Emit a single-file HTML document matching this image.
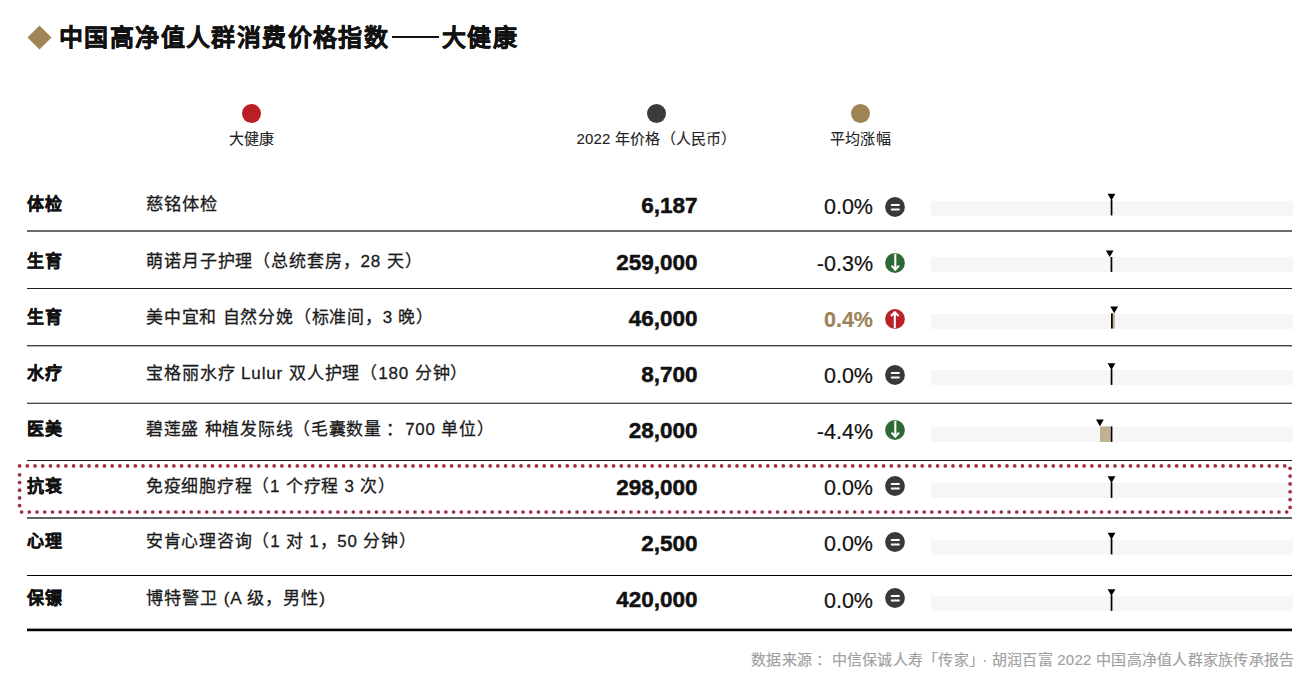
<!DOCTYPE html>
<html lang="zh-CN"><head><meta charset="utf-8"><style>
html,body{margin:0;padding:0;background:#fff;}
body{width:1308px;height:674px;overflow:hidden;position:relative;font-family:"Liberation Sans",sans-serif;color:#111;}
.a{position:absolute;white-space:nowrap;}
.b{font-weight:bold;}
.r{text-align:right;}
.c{text-align:center;}
.ttl{font-weight:bold;font-size:24px;line-height:38px;letter-spacing:1.4px;color:#111;-webkit-text-stroke:0.45px #111;}
.cat{font-size:17px;line-height:26px;letter-spacing:1px;font-weight:700;-webkit-text-stroke:0.35px #111;color:#111;}
.nm{font-size:17px;line-height:26px;letter-spacing:0.85px;color:#1a1a1a;-webkit-text-stroke:0.28px #1a1a1a;transform-origin:0 50%;}
.pr{font-weight:bold;font-size:22.5px;line-height:30px;color:#111;-webkit-text-stroke:0.5px #111;}
.pc{font-size:21.5px;line-height:30px;-webkit-text-stroke:0.2px currentColor;}
.trk{position:absolute;left:931px;width:362px;height:15px;background:#f6f6f6;}
.lg{font-size:15px;line-height:22px;letter-spacing:0.2px;color:#222;-webkit-text-stroke:0.1px #222;}
</style></head><body>

<div class="a" style="left:30.9px;top:28.6px;width:17px;height:17px;background:#9e8558;transform:rotate(45deg);"></div>
<div class="a ttl" style="left:59px;top:19px;">中国高净值人群消费价格指数</div>
<div class="a" style="left:392.2px;top:36.1px;width:46.5px;height:1.9px;background:#111;"></div>
<div class="a ttl" style="left:442px;top:19px;">大健康</div>
<div class="a" style="left:242.2px;top:104.3px;width:19px;height:19px;border-radius:50%;background:#bb1f26;"></div>
<div class="a c lg" style="left:101.7px;width:300px;top:127.5px;">大健康</div>
<div class="a" style="left:647.0px;top:104.3px;width:19px;height:19px;border-radius:50%;background:#3d3a3a;"></div>
<div class="a c lg" style="left:506.5px;width:300px;top:127.5px;">2022 年价格（人民币）</div>
<div class="a" style="left:850.9px;top:104.3px;width:19px;height:19px;border-radius:50%;background:#9d8452;"></div>
<div class="a c lg" style="left:710.4px;width:300px;top:127.5px;">平均涨幅</div>
<div class="trk" style="top:201.00px;"></div>
<div class="a cat" style="left:27px;top:191.7px;">体检</div>
<div class="a nm" style="left:145.6px;top:191.7px;transform:scaleX(1.016);">慈铭体检</div>
<div class="a r pr" style="left:397.5px;width:300px;top:191.2px;">6,187</div>
<div class="a r pc" style="left:573px;width:300px;top:191.5px;color:#111;font-weight:normal;">0.0%</div>
<svg style="position:absolute;left:885.45px;top:197.00px" width="20" height="20" viewBox="0 0 20 20"><circle cx="10" cy="10" r="9.9" fill="#3b3838"/><rect x="5.9" y="6.9" width="8.8" height="2.2" rx="0.6" fill="#fff"/><rect x="5.9" y="11.4" width="8.8" height="2.2" rx="0.6" fill="#fff"/></svg>
<div class="trk" style="top:257.45px;"></div>
<div class="a cat" style="left:27px;top:248.7px;">生育</div>
<div class="a nm" style="left:145.6px;top:248.7px;transform:scaleX(1.0015);">萌诺月子护理（总统套房，28 天）</div>
<div class="a r pr" style="left:397.5px;width:300px;top:248.2px;">259,000</div>
<div class="a r pc" style="left:573px;width:300px;top:248.5px;color:#111;font-weight:normal;">-0.3%</div>
<svg style="position:absolute;left:885.45px;top:252.86px" width="20" height="20" viewBox="0 0 20 20"><circle cx="10" cy="10" r="9.9" fill="#2d6a36"/><path d="M10.3 0.8 V16.6 M6.6 12.6 L10.3 16.6 L14 12.6" fill="none" stroke="#fff" stroke-width="2.1" stroke-linecap="butt" stroke-linejoin="miter"/></svg>
<div class="trk" style="top:313.90px;"></div>
<div class="a cat" style="left:27px;top:304.7px;">生育</div>
<div class="a nm" style="left:145.6px;top:304.7px;transform:scaleX(0.996);">美中宜和 自然分娩（标准间，3 晚）</div>
<div class="a r pr" style="left:397.5px;width:300px;top:304.2px;">46,000</div>
<div class="a r pc" style="left:573px;width:300px;top:304.5px;color:#9c8458;font-weight:bold;">0.4%</div>
<svg style="position:absolute;left:885.45px;top:308.72px" width="20" height="20" viewBox="0 0 20 20"><circle cx="10" cy="10" r="9.9" fill="#b92229"/><path d="M9.8 19.2 V3.2 M6 7.1 L9.8 3.2 L13.6 7.1" fill="none" stroke="#fff" stroke-width="2.1" stroke-linecap="butt" stroke-linejoin="miter"/></svg>
<div class="trk" style="top:370.35px;"></div>
<div class="a cat" style="left:27px;top:360.8px;">水疗</div>
<div class="a nm" style="left:145.6px;top:360.8px;transform:scaleX(1.002);">宝格丽水疗 Lulur 双人护理（180 分钟）</div>
<div class="a r pr" style="left:397.5px;width:300px;top:360.3px;">8,700</div>
<div class="a r pc" style="left:573px;width:300px;top:360.6px;color:#111;font-weight:normal;">0.0%</div>
<svg style="position:absolute;left:885.45px;top:364.58px" width="20" height="20" viewBox="0 0 20 20"><circle cx="10" cy="10" r="9.9" fill="#3b3838"/><rect x="5.9" y="6.9" width="8.8" height="2.2" rx="0.6" fill="#fff"/><rect x="5.9" y="11.4" width="8.8" height="2.2" rx="0.6" fill="#fff"/></svg>
<div class="trk" style="top:426.80px;"></div>
<div class="a cat" style="left:27px;top:416.7px;">医美</div>
<div class="a nm" style="left:145.6px;top:416.7px;transform:scaleX(0.9926);">碧莲盛 种植发际线（毛囊数量<span style='position:relative;left:4px'>：</span> 700 单位）</div>
<div class="a r pr" style="left:397.5px;width:300px;top:416.2px;">28,000</div>
<div class="a r pc" style="left:573px;width:300px;top:416.5px;color:#111;font-weight:normal;">-4.4%</div>
<svg style="position:absolute;left:885.45px;top:420.44px" width="20" height="20" viewBox="0 0 20 20"><circle cx="10" cy="10" r="9.9" fill="#2d6a36"/><path d="M10.3 0.8 V16.6 M6.6 12.6 L10.3 16.6 L14 12.6" fill="none" stroke="#fff" stroke-width="2.1" stroke-linecap="butt" stroke-linejoin="miter"/></svg>
<div class="trk" style="top:483.25px;"></div>
<div class="a cat" style="left:27px;top:473.5px;">抗衰</div>
<div class="a nm" style="left:145.6px;top:473.5px;transform:scaleX(0.993);">免疫细胞疗程（1 个疗程 3 次）</div>
<div class="a r pr" style="left:397.5px;width:300px;top:473.0px;">298,000</div>
<div class="a r pc" style="left:573px;width:300px;top:473.3px;color:#111;font-weight:normal;">0.0%</div>
<svg style="position:absolute;left:885.45px;top:476.30px" width="20" height="20" viewBox="0 0 20 20"><circle cx="10" cy="10" r="9.9" fill="#3b3838"/><rect x="5.9" y="6.9" width="8.8" height="2.2" rx="0.6" fill="#fff"/><rect x="5.9" y="11.4" width="8.8" height="2.2" rx="0.6" fill="#fff"/></svg>
<div class="trk" style="top:539.70px;"></div>
<div class="a cat" style="left:27px;top:529.4px;">心理</div>
<div class="a nm" style="left:145.6px;top:529.4px;transform:scaleX(0.994);">安肯心理咨询（1 对 1，50 分钟）</div>
<div class="a r pr" style="left:397.5px;width:300px;top:528.9px;">2,500</div>
<div class="a r pc" style="left:573px;width:300px;top:529.2px;color:#111;font-weight:normal;">0.0%</div>
<svg style="position:absolute;left:885.45px;top:532.16px" width="20" height="20" viewBox="0 0 20 20"><circle cx="10" cy="10" r="9.9" fill="#3b3838"/><rect x="5.9" y="6.9" width="8.8" height="2.2" rx="0.6" fill="#fff"/><rect x="5.9" y="11.4" width="8.8" height="2.2" rx="0.6" fill="#fff"/></svg>
<div class="trk" style="top:596.15px;"></div>
<div class="a cat" style="left:27px;top:585.7px;">保镖</div>
<div class="a nm" style="left:145.6px;top:585.7px;transform:scaleX(1.0086);">博特警卫 (A 级，男性)</div>
<div class="a r pr" style="left:397.5px;width:300px;top:585.2px;">420,000</div>
<div class="a r pc" style="left:573px;width:300px;top:585.5px;color:#111;font-weight:normal;">0.0%</div>
<svg style="position:absolute;left:885.45px;top:588.02px" width="20" height="20" viewBox="0 0 20 20"><circle cx="10" cy="10" r="9.9" fill="#3b3838"/><rect x="5.9" y="6.9" width="8.8" height="2.2" rx="0.6" fill="#fff"/><rect x="5.9" y="11.4" width="8.8" height="2.2" rx="0.6" fill="#fff"/></svg>
<div class="a" style="left:27px;top:230px;width:1265px;height:2px;background:#6a6a6a;"></div>
<div class="a" style="left:27px;top:288px;width:1265px;height:1px;background:#1e1e1e;"></div>
<div class="a" style="left:27px;top:345px;width:1265px;height:1px;background:#454545;"></div>
<div class="a" style="left:27px;top:346px;width:1265px;height:1px;background:#b0b0b0;"></div>
<div class="a" style="left:27px;top:402px;width:1265px;height:1px;background:#c0c0c0;"></div>
<div class="a" style="left:27px;top:403px;width:1265px;height:1px;background:#474747;"></div>
<div class="a" style="left:27px;top:460px;width:1265px;height:1px;background:#202020;"></div>
<div class="a" style="left:27px;top:517px;width:1265px;height:2px;background:#5e6462;"></div>
<div class="a" style="left:27px;top:575px;width:1265px;height:1px;background:#000;"></div>
<div class="a" style="left:27px;top:628px;width:1265px;height:1px;background:#9a9a9a;"></div>
<div class="a" style="left:27px;top:629px;width:1265px;height:2px;background:#000;"></div>
<div class="a" style="left:27px;top:631px;width:1265px;height:1px;background:#c8c8c8;"></div>
<svg class="a" style="left:0;top:0" width="1308" height="674"><polygon points="1107.60,193.80 1115.40,193.80 1111.50,200.40" fill="#000"/><rect x="1110.70" y="199.80" width="1.7" height="15.60" fill="#000"/><polygon points="1105.80,250.40 1113.60,250.40 1109.70,257.00" fill="#000"/><rect x="1110.60" y="257.00" width="1.7" height="14.90" fill="#000"/><rect x="1111.60" y="313.40" width="3.20" height="15.10" fill="#c2b190"/><polygon points="1110.30,306.60 1118.10,306.60 1114.20,313.20" fill="#000"/><rect x="1111.00" y="313.40" width="1.7" height="15.10" fill="#000"/><polygon points="1107.60,363.30 1115.40,363.30 1111.50,369.90" fill="#000"/><rect x="1110.70" y="369.30" width="1.7" height="15.60" fill="#000"/><rect x="1100.00" y="426.40" width="10.50" height="15.50" fill="#c2b190"/><polygon points="1096.00,419.60 1103.80,419.60 1099.90,426.20" fill="#000"/><rect x="1110.70" y="426.40" width="1.7" height="15.50" fill="#000"/><polygon points="1107.60,476.30 1115.40,476.30 1111.50,482.90" fill="#000"/><rect x="1110.70" y="482.30" width="1.7" height="15.60" fill="#000"/><polygon points="1107.60,532.80 1115.40,532.80 1111.50,539.40" fill="#000"/><rect x="1110.70" y="538.80" width="1.7" height="15.60" fill="#000"/><polygon points="1107.60,589.30 1115.40,589.30 1111.50,595.90" fill="#000"/><rect x="1110.70" y="595.30" width="1.7" height="15.60" fill="#000"/></svg>
<svg class="a" style="left:0;top:0" width="1308" height="674"><circle cx="19.60" cy="465.90" r="1.85" fill="#a02f3f"/><circle cx="21.60" cy="512.00" r="1.85" fill="#a02f3f"/><circle cx="27.31" cy="465.90" r="1.85" fill="#a02f3f"/><circle cx="29.31" cy="512.00" r="1.85" fill="#a02f3f"/><circle cx="35.03" cy="465.90" r="1.85" fill="#a02f3f"/><circle cx="37.03" cy="512.00" r="1.85" fill="#a02f3f"/><circle cx="42.74" cy="465.90" r="1.85" fill="#a02f3f"/><circle cx="44.74" cy="512.00" r="1.85" fill="#a02f3f"/><circle cx="50.46" cy="465.90" r="1.85" fill="#a02f3f"/><circle cx="52.46" cy="512.00" r="1.85" fill="#a02f3f"/><circle cx="58.17" cy="465.90" r="1.85" fill="#a02f3f"/><circle cx="60.17" cy="512.00" r="1.85" fill="#a02f3f"/><circle cx="65.88" cy="465.90" r="1.85" fill="#a02f3f"/><circle cx="67.88" cy="512.00" r="1.85" fill="#a02f3f"/><circle cx="73.60" cy="465.90" r="1.85" fill="#a02f3f"/><circle cx="75.60" cy="512.00" r="1.85" fill="#a02f3f"/><circle cx="81.31" cy="465.90" r="1.85" fill="#a02f3f"/><circle cx="83.31" cy="512.00" r="1.85" fill="#a02f3f"/><circle cx="89.03" cy="465.90" r="1.85" fill="#a02f3f"/><circle cx="91.03" cy="512.00" r="1.85" fill="#a02f3f"/><circle cx="96.74" cy="465.90" r="1.85" fill="#a02f3f"/><circle cx="98.74" cy="512.00" r="1.85" fill="#a02f3f"/><circle cx="104.45" cy="465.90" r="1.85" fill="#a02f3f"/><circle cx="106.45" cy="512.00" r="1.85" fill="#a02f3f"/><circle cx="112.17" cy="465.90" r="1.85" fill="#a02f3f"/><circle cx="114.17" cy="512.00" r="1.85" fill="#a02f3f"/><circle cx="119.88" cy="465.90" r="1.85" fill="#a02f3f"/><circle cx="121.88" cy="512.00" r="1.85" fill="#a02f3f"/><circle cx="127.60" cy="465.90" r="1.85" fill="#a02f3f"/><circle cx="129.60" cy="512.00" r="1.85" fill="#a02f3f"/><circle cx="135.31" cy="465.90" r="1.85" fill="#a02f3f"/><circle cx="137.31" cy="512.00" r="1.85" fill="#a02f3f"/><circle cx="143.02" cy="465.90" r="1.85" fill="#a02f3f"/><circle cx="145.02" cy="512.00" r="1.85" fill="#a02f3f"/><circle cx="150.74" cy="465.90" r="1.85" fill="#a02f3f"/><circle cx="152.74" cy="512.00" r="1.85" fill="#a02f3f"/><circle cx="158.45" cy="465.90" r="1.85" fill="#a02f3f"/><circle cx="160.45" cy="512.00" r="1.85" fill="#a02f3f"/><circle cx="166.17" cy="465.90" r="1.85" fill="#a02f3f"/><circle cx="168.17" cy="512.00" r="1.85" fill="#a02f3f"/><circle cx="173.88" cy="465.90" r="1.85" fill="#a02f3f"/><circle cx="175.88" cy="512.00" r="1.85" fill="#a02f3f"/><circle cx="181.59" cy="465.90" r="1.85" fill="#a02f3f"/><circle cx="183.59" cy="512.00" r="1.85" fill="#a02f3f"/><circle cx="189.31" cy="465.90" r="1.85" fill="#a02f3f"/><circle cx="191.31" cy="512.00" r="1.85" fill="#a02f3f"/><circle cx="197.02" cy="465.90" r="1.85" fill="#a02f3f"/><circle cx="199.02" cy="512.00" r="1.85" fill="#a02f3f"/><circle cx="204.74" cy="465.90" r="1.85" fill="#a02f3f"/><circle cx="206.74" cy="512.00" r="1.85" fill="#a02f3f"/><circle cx="212.45" cy="465.90" r="1.85" fill="#a02f3f"/><circle cx="214.45" cy="512.00" r="1.85" fill="#a02f3f"/><circle cx="220.16" cy="465.90" r="1.85" fill="#a02f3f"/><circle cx="222.16" cy="512.00" r="1.85" fill="#a02f3f"/><circle cx="227.88" cy="465.90" r="1.85" fill="#a02f3f"/><circle cx="229.88" cy="512.00" r="1.85" fill="#a02f3f"/><circle cx="235.59" cy="465.90" r="1.85" fill="#a02f3f"/><circle cx="237.59" cy="512.00" r="1.85" fill="#a02f3f"/><circle cx="243.31" cy="465.90" r="1.85" fill="#a02f3f"/><circle cx="245.31" cy="512.00" r="1.85" fill="#a02f3f"/><circle cx="251.02" cy="465.90" r="1.85" fill="#a02f3f"/><circle cx="253.02" cy="512.00" r="1.85" fill="#a02f3f"/><circle cx="258.73" cy="465.90" r="1.85" fill="#a02f3f"/><circle cx="260.73" cy="512.00" r="1.85" fill="#a02f3f"/><circle cx="266.45" cy="465.90" r="1.85" fill="#a02f3f"/><circle cx="268.45" cy="512.00" r="1.85" fill="#a02f3f"/><circle cx="274.16" cy="465.90" r="1.85" fill="#a02f3f"/><circle cx="276.16" cy="512.00" r="1.85" fill="#a02f3f"/><circle cx="281.88" cy="465.90" r="1.85" fill="#a02f3f"/><circle cx="283.88" cy="512.00" r="1.85" fill="#a02f3f"/><circle cx="289.59" cy="465.90" r="1.85" fill="#a02f3f"/><circle cx="291.59" cy="512.00" r="1.85" fill="#a02f3f"/><circle cx="297.30" cy="465.90" r="1.85" fill="#a02f3f"/><circle cx="299.30" cy="512.00" r="1.85" fill="#a02f3f"/><circle cx="305.02" cy="465.90" r="1.85" fill="#a02f3f"/><circle cx="307.02" cy="512.00" r="1.85" fill="#a02f3f"/><circle cx="312.73" cy="465.90" r="1.85" fill="#a02f3f"/><circle cx="314.73" cy="512.00" r="1.85" fill="#a02f3f"/><circle cx="320.45" cy="465.90" r="1.85" fill="#a02f3f"/><circle cx="322.45" cy="512.00" r="1.85" fill="#a02f3f"/><circle cx="328.16" cy="465.90" r="1.85" fill="#a02f3f"/><circle cx="330.16" cy="512.00" r="1.85" fill="#a02f3f"/><circle cx="335.87" cy="465.90" r="1.85" fill="#a02f3f"/><circle cx="337.87" cy="512.00" r="1.85" fill="#a02f3f"/><circle cx="343.59" cy="465.90" r="1.85" fill="#a02f3f"/><circle cx="345.59" cy="512.00" r="1.85" fill="#a02f3f"/><circle cx="351.30" cy="465.90" r="1.85" fill="#a02f3f"/><circle cx="353.30" cy="512.00" r="1.85" fill="#a02f3f"/><circle cx="359.02" cy="465.90" r="1.85" fill="#a02f3f"/><circle cx="361.02" cy="512.00" r="1.85" fill="#a02f3f"/><circle cx="366.73" cy="465.90" r="1.85" fill="#a02f3f"/><circle cx="368.73" cy="512.00" r="1.85" fill="#a02f3f"/><circle cx="374.44" cy="465.90" r="1.85" fill="#a02f3f"/><circle cx="376.44" cy="512.00" r="1.85" fill="#a02f3f"/><circle cx="382.16" cy="465.90" r="1.85" fill="#a02f3f"/><circle cx="384.16" cy="512.00" r="1.85" fill="#a02f3f"/><circle cx="389.87" cy="465.90" r="1.85" fill="#a02f3f"/><circle cx="391.87" cy="512.00" r="1.85" fill="#a02f3f"/><circle cx="397.59" cy="465.90" r="1.85" fill="#a02f3f"/><circle cx="399.59" cy="512.00" r="1.85" fill="#a02f3f"/><circle cx="405.30" cy="465.90" r="1.85" fill="#a02f3f"/><circle cx="407.30" cy="512.00" r="1.85" fill="#a02f3f"/><circle cx="413.01" cy="465.90" r="1.85" fill="#a02f3f"/><circle cx="415.01" cy="512.00" r="1.85" fill="#a02f3f"/><circle cx="420.73" cy="465.90" r="1.85" fill="#a02f3f"/><circle cx="422.73" cy="512.00" r="1.85" fill="#a02f3f"/><circle cx="428.44" cy="465.90" r="1.85" fill="#a02f3f"/><circle cx="430.44" cy="512.00" r="1.85" fill="#a02f3f"/><circle cx="436.16" cy="465.90" r="1.85" fill="#a02f3f"/><circle cx="438.16" cy="512.00" r="1.85" fill="#a02f3f"/><circle cx="443.87" cy="465.90" r="1.85" fill="#a02f3f"/><circle cx="445.87" cy="512.00" r="1.85" fill="#a02f3f"/><circle cx="451.58" cy="465.90" r="1.85" fill="#a02f3f"/><circle cx="453.58" cy="512.00" r="1.85" fill="#a02f3f"/><circle cx="459.30" cy="465.90" r="1.85" fill="#a02f3f"/><circle cx="461.30" cy="512.00" r="1.85" fill="#a02f3f"/><circle cx="467.01" cy="465.90" r="1.85" fill="#a02f3f"/><circle cx="469.01" cy="512.00" r="1.85" fill="#a02f3f"/><circle cx="474.73" cy="465.90" r="1.85" fill="#a02f3f"/><circle cx="476.73" cy="512.00" r="1.85" fill="#a02f3f"/><circle cx="482.44" cy="465.90" r="1.85" fill="#a02f3f"/><circle cx="484.44" cy="512.00" r="1.85" fill="#a02f3f"/><circle cx="490.15" cy="465.90" r="1.85" fill="#a02f3f"/><circle cx="492.15" cy="512.00" r="1.85" fill="#a02f3f"/><circle cx="497.87" cy="465.90" r="1.85" fill="#a02f3f"/><circle cx="499.87" cy="512.00" r="1.85" fill="#a02f3f"/><circle cx="505.58" cy="465.90" r="1.85" fill="#a02f3f"/><circle cx="507.58" cy="512.00" r="1.85" fill="#a02f3f"/><circle cx="513.30" cy="465.90" r="1.85" fill="#a02f3f"/><circle cx="515.30" cy="512.00" r="1.85" fill="#a02f3f"/><circle cx="521.01" cy="465.90" r="1.85" fill="#a02f3f"/><circle cx="523.01" cy="512.00" r="1.85" fill="#a02f3f"/><circle cx="528.72" cy="465.90" r="1.85" fill="#a02f3f"/><circle cx="530.72" cy="512.00" r="1.85" fill="#a02f3f"/><circle cx="536.44" cy="465.90" r="1.85" fill="#a02f3f"/><circle cx="538.44" cy="512.00" r="1.85" fill="#a02f3f"/><circle cx="544.15" cy="465.90" r="1.85" fill="#a02f3f"/><circle cx="546.15" cy="512.00" r="1.85" fill="#a02f3f"/><circle cx="551.87" cy="465.90" r="1.85" fill="#a02f3f"/><circle cx="553.87" cy="512.00" r="1.85" fill="#a02f3f"/><circle cx="559.58" cy="465.90" r="1.85" fill="#a02f3f"/><circle cx="561.58" cy="512.00" r="1.85" fill="#a02f3f"/><circle cx="567.29" cy="465.90" r="1.85" fill="#a02f3f"/><circle cx="569.29" cy="512.00" r="1.85" fill="#a02f3f"/><circle cx="575.01" cy="465.90" r="1.85" fill="#a02f3f"/><circle cx="577.01" cy="512.00" r="1.85" fill="#a02f3f"/><circle cx="582.72" cy="465.90" r="1.85" fill="#a02f3f"/><circle cx="584.72" cy="512.00" r="1.85" fill="#a02f3f"/><circle cx="590.44" cy="465.90" r="1.85" fill="#a02f3f"/><circle cx="592.44" cy="512.00" r="1.85" fill="#a02f3f"/><circle cx="598.15" cy="465.90" r="1.85" fill="#a02f3f"/><circle cx="600.15" cy="512.00" r="1.85" fill="#a02f3f"/><circle cx="605.86" cy="465.90" r="1.85" fill="#a02f3f"/><circle cx="607.86" cy="512.00" r="1.85" fill="#a02f3f"/><circle cx="613.58" cy="465.90" r="1.85" fill="#a02f3f"/><circle cx="615.58" cy="512.00" r="1.85" fill="#a02f3f"/><circle cx="621.29" cy="465.90" r="1.85" fill="#a02f3f"/><circle cx="623.29" cy="512.00" r="1.85" fill="#a02f3f"/><circle cx="629.01" cy="465.90" r="1.85" fill="#a02f3f"/><circle cx="631.01" cy="512.00" r="1.85" fill="#a02f3f"/><circle cx="636.72" cy="465.90" r="1.85" fill="#a02f3f"/><circle cx="638.72" cy="512.00" r="1.85" fill="#a02f3f"/><circle cx="644.43" cy="465.90" r="1.85" fill="#a02f3f"/><circle cx="646.43" cy="512.00" r="1.85" fill="#a02f3f"/><circle cx="652.15" cy="465.90" r="1.85" fill="#a02f3f"/><circle cx="654.15" cy="512.00" r="1.85" fill="#a02f3f"/><circle cx="659.86" cy="465.90" r="1.85" fill="#a02f3f"/><circle cx="661.86" cy="512.00" r="1.85" fill="#a02f3f"/><circle cx="667.58" cy="465.90" r="1.85" fill="#a02f3f"/><circle cx="669.58" cy="512.00" r="1.85" fill="#a02f3f"/><circle cx="675.29" cy="465.90" r="1.85" fill="#a02f3f"/><circle cx="677.29" cy="512.00" r="1.85" fill="#a02f3f"/><circle cx="683.00" cy="465.90" r="1.85" fill="#a02f3f"/><circle cx="685.00" cy="512.00" r="1.85" fill="#a02f3f"/><circle cx="690.72" cy="465.90" r="1.85" fill="#a02f3f"/><circle cx="692.72" cy="512.00" r="1.85" fill="#a02f3f"/><circle cx="698.43" cy="465.90" r="1.85" fill="#a02f3f"/><circle cx="700.43" cy="512.00" r="1.85" fill="#a02f3f"/><circle cx="706.15" cy="465.90" r="1.85" fill="#a02f3f"/><circle cx="708.15" cy="512.00" r="1.85" fill="#a02f3f"/><circle cx="713.86" cy="465.90" r="1.85" fill="#a02f3f"/><circle cx="715.86" cy="512.00" r="1.85" fill="#a02f3f"/><circle cx="721.57" cy="465.90" r="1.85" fill="#a02f3f"/><circle cx="723.57" cy="512.00" r="1.85" fill="#a02f3f"/><circle cx="729.29" cy="465.90" r="1.85" fill="#a02f3f"/><circle cx="731.29" cy="512.00" r="1.85" fill="#a02f3f"/><circle cx="737.00" cy="465.90" r="1.85" fill="#a02f3f"/><circle cx="739.00" cy="512.00" r="1.85" fill="#a02f3f"/><circle cx="744.72" cy="465.90" r="1.85" fill="#a02f3f"/><circle cx="746.72" cy="512.00" r="1.85" fill="#a02f3f"/><circle cx="752.43" cy="465.90" r="1.85" fill="#a02f3f"/><circle cx="754.43" cy="512.00" r="1.85" fill="#a02f3f"/><circle cx="760.14" cy="465.90" r="1.85" fill="#a02f3f"/><circle cx="762.14" cy="512.00" r="1.85" fill="#a02f3f"/><circle cx="767.86" cy="465.90" r="1.85" fill="#a02f3f"/><circle cx="769.86" cy="512.00" r="1.85" fill="#a02f3f"/><circle cx="775.57" cy="465.90" r="1.85" fill="#a02f3f"/><circle cx="777.57" cy="512.00" r="1.85" fill="#a02f3f"/><circle cx="783.29" cy="465.90" r="1.85" fill="#a02f3f"/><circle cx="785.29" cy="512.00" r="1.85" fill="#a02f3f"/><circle cx="791.00" cy="465.90" r="1.85" fill="#a02f3f"/><circle cx="793.00" cy="512.00" r="1.85" fill="#a02f3f"/><circle cx="798.71" cy="465.90" r="1.85" fill="#a02f3f"/><circle cx="800.71" cy="512.00" r="1.85" fill="#a02f3f"/><circle cx="806.43" cy="465.90" r="1.85" fill="#a02f3f"/><circle cx="808.43" cy="512.00" r="1.85" fill="#a02f3f"/><circle cx="814.14" cy="465.90" r="1.85" fill="#a02f3f"/><circle cx="816.14" cy="512.00" r="1.85" fill="#a02f3f"/><circle cx="821.86" cy="465.90" r="1.85" fill="#a02f3f"/><circle cx="823.86" cy="512.00" r="1.85" fill="#a02f3f"/><circle cx="829.57" cy="465.90" r="1.85" fill="#a02f3f"/><circle cx="831.57" cy="512.00" r="1.85" fill="#a02f3f"/><circle cx="837.28" cy="465.90" r="1.85" fill="#a02f3f"/><circle cx="839.28" cy="512.00" r="1.85" fill="#a02f3f"/><circle cx="845.00" cy="465.90" r="1.85" fill="#a02f3f"/><circle cx="847.00" cy="512.00" r="1.85" fill="#a02f3f"/><circle cx="852.71" cy="465.90" r="1.85" fill="#a02f3f"/><circle cx="854.71" cy="512.00" r="1.85" fill="#a02f3f"/><circle cx="860.43" cy="465.90" r="1.85" fill="#a02f3f"/><circle cx="862.43" cy="512.00" r="1.85" fill="#a02f3f"/><circle cx="868.14" cy="465.90" r="1.85" fill="#a02f3f"/><circle cx="870.14" cy="512.00" r="1.85" fill="#a02f3f"/><circle cx="875.85" cy="465.90" r="1.85" fill="#a02f3f"/><circle cx="877.85" cy="512.00" r="1.85" fill="#a02f3f"/><circle cx="883.57" cy="465.90" r="1.85" fill="#a02f3f"/><circle cx="885.57" cy="512.00" r="1.85" fill="#a02f3f"/><circle cx="891.28" cy="465.90" r="1.85" fill="#a02f3f"/><circle cx="893.28" cy="512.00" r="1.85" fill="#a02f3f"/><circle cx="899.00" cy="465.90" r="1.85" fill="#a02f3f"/><circle cx="901.00" cy="512.00" r="1.85" fill="#a02f3f"/><circle cx="906.71" cy="465.90" r="1.85" fill="#a02f3f"/><circle cx="908.71" cy="512.00" r="1.85" fill="#a02f3f"/><circle cx="914.42" cy="465.90" r="1.85" fill="#a02f3f"/><circle cx="916.42" cy="512.00" r="1.85" fill="#a02f3f"/><circle cx="922.14" cy="465.90" r="1.85" fill="#a02f3f"/><circle cx="924.14" cy="512.00" r="1.85" fill="#a02f3f"/><circle cx="929.85" cy="465.90" r="1.85" fill="#a02f3f"/><circle cx="931.85" cy="512.00" r="1.85" fill="#a02f3f"/><circle cx="937.57" cy="465.90" r="1.85" fill="#a02f3f"/><circle cx="939.57" cy="512.00" r="1.85" fill="#a02f3f"/><circle cx="945.28" cy="465.90" r="1.85" fill="#a02f3f"/><circle cx="947.28" cy="512.00" r="1.85" fill="#a02f3f"/><circle cx="952.99" cy="465.90" r="1.85" fill="#a02f3f"/><circle cx="954.99" cy="512.00" r="1.85" fill="#a02f3f"/><circle cx="960.71" cy="465.90" r="1.85" fill="#a02f3f"/><circle cx="962.71" cy="512.00" r="1.85" fill="#a02f3f"/><circle cx="968.42" cy="465.90" r="1.85" fill="#a02f3f"/><circle cx="970.42" cy="512.00" r="1.85" fill="#a02f3f"/><circle cx="976.14" cy="465.90" r="1.85" fill="#a02f3f"/><circle cx="978.14" cy="512.00" r="1.85" fill="#a02f3f"/><circle cx="983.85" cy="465.90" r="1.85" fill="#a02f3f"/><circle cx="985.85" cy="512.00" r="1.85" fill="#a02f3f"/><circle cx="991.56" cy="465.90" r="1.85" fill="#a02f3f"/><circle cx="993.56" cy="512.00" r="1.85" fill="#a02f3f"/><circle cx="999.28" cy="465.90" r="1.85" fill="#a02f3f"/><circle cx="1001.28" cy="512.00" r="1.85" fill="#a02f3f"/><circle cx="1006.99" cy="465.90" r="1.85" fill="#a02f3f"/><circle cx="1008.99" cy="512.00" r="1.85" fill="#a02f3f"/><circle cx="1014.71" cy="465.90" r="1.85" fill="#a02f3f"/><circle cx="1016.71" cy="512.00" r="1.85" fill="#a02f3f"/><circle cx="1022.42" cy="465.90" r="1.85" fill="#a02f3f"/><circle cx="1024.42" cy="512.00" r="1.85" fill="#a02f3f"/><circle cx="1030.13" cy="465.90" r="1.85" fill="#a02f3f"/><circle cx="1032.13" cy="512.00" r="1.85" fill="#a02f3f"/><circle cx="1037.85" cy="465.90" r="1.85" fill="#a02f3f"/><circle cx="1039.85" cy="512.00" r="1.85" fill="#a02f3f"/><circle cx="1045.56" cy="465.90" r="1.85" fill="#a02f3f"/><circle cx="1047.56" cy="512.00" r="1.85" fill="#a02f3f"/><circle cx="1053.28" cy="465.90" r="1.85" fill="#a02f3f"/><circle cx="1055.28" cy="512.00" r="1.85" fill="#a02f3f"/><circle cx="1060.99" cy="465.90" r="1.85" fill="#a02f3f"/><circle cx="1062.99" cy="512.00" r="1.85" fill="#a02f3f"/><circle cx="1068.70" cy="465.90" r="1.85" fill="#a02f3f"/><circle cx="1070.70" cy="512.00" r="1.85" fill="#a02f3f"/><circle cx="1076.42" cy="465.90" r="1.85" fill="#a02f3f"/><circle cx="1078.42" cy="512.00" r="1.85" fill="#a02f3f"/><circle cx="1084.13" cy="465.90" r="1.85" fill="#a02f3f"/><circle cx="1086.13" cy="512.00" r="1.85" fill="#a02f3f"/><circle cx="1091.85" cy="465.90" r="1.85" fill="#a02f3f"/><circle cx="1093.85" cy="512.00" r="1.85" fill="#a02f3f"/><circle cx="1099.56" cy="465.90" r="1.85" fill="#a02f3f"/><circle cx="1101.56" cy="512.00" r="1.85" fill="#a02f3f"/><circle cx="1107.27" cy="465.90" r="1.85" fill="#a02f3f"/><circle cx="1109.27" cy="512.00" r="1.85" fill="#a02f3f"/><circle cx="1114.99" cy="465.90" r="1.85" fill="#a02f3f"/><circle cx="1116.99" cy="512.00" r="1.85" fill="#a02f3f"/><circle cx="1122.70" cy="465.90" r="1.85" fill="#a02f3f"/><circle cx="1124.70" cy="512.00" r="1.85" fill="#a02f3f"/><circle cx="1130.42" cy="465.90" r="1.85" fill="#a02f3f"/><circle cx="1132.42" cy="512.00" r="1.85" fill="#a02f3f"/><circle cx="1138.13" cy="465.90" r="1.85" fill="#a02f3f"/><circle cx="1140.13" cy="512.00" r="1.85" fill="#a02f3f"/><circle cx="1145.84" cy="465.90" r="1.85" fill="#a02f3f"/><circle cx="1147.84" cy="512.00" r="1.85" fill="#a02f3f"/><circle cx="1153.56" cy="465.90" r="1.85" fill="#a02f3f"/><circle cx="1155.56" cy="512.00" r="1.85" fill="#a02f3f"/><circle cx="1161.27" cy="465.90" r="1.85" fill="#a02f3f"/><circle cx="1163.27" cy="512.00" r="1.85" fill="#a02f3f"/><circle cx="1168.99" cy="465.90" r="1.85" fill="#a02f3f"/><circle cx="1170.99" cy="512.00" r="1.85" fill="#a02f3f"/><circle cx="1176.70" cy="465.90" r="1.85" fill="#a02f3f"/><circle cx="1178.70" cy="512.00" r="1.85" fill="#a02f3f"/><circle cx="1184.41" cy="465.90" r="1.85" fill="#a02f3f"/><circle cx="1186.41" cy="512.00" r="1.85" fill="#a02f3f"/><circle cx="1192.13" cy="465.90" r="1.85" fill="#a02f3f"/><circle cx="1194.13" cy="512.00" r="1.85" fill="#a02f3f"/><circle cx="1199.84" cy="465.90" r="1.85" fill="#a02f3f"/><circle cx="1201.84" cy="512.00" r="1.85" fill="#a02f3f"/><circle cx="1207.56" cy="465.90" r="1.85" fill="#a02f3f"/><circle cx="1209.56" cy="512.00" r="1.85" fill="#a02f3f"/><circle cx="1215.27" cy="465.90" r="1.85" fill="#a02f3f"/><circle cx="1217.27" cy="512.00" r="1.85" fill="#a02f3f"/><circle cx="1222.98" cy="465.90" r="1.85" fill="#a02f3f"/><circle cx="1224.98" cy="512.00" r="1.85" fill="#a02f3f"/><circle cx="1230.70" cy="465.90" r="1.85" fill="#a02f3f"/><circle cx="1232.70" cy="512.00" r="1.85" fill="#a02f3f"/><circle cx="1238.41" cy="465.90" r="1.85" fill="#a02f3f"/><circle cx="1240.41" cy="512.00" r="1.85" fill="#a02f3f"/><circle cx="1246.13" cy="465.90" r="1.85" fill="#a02f3f"/><circle cx="1248.13" cy="512.00" r="1.85" fill="#a02f3f"/><circle cx="1253.84" cy="465.90" r="1.85" fill="#a02f3f"/><circle cx="1255.84" cy="512.00" r="1.85" fill="#a02f3f"/><circle cx="1261.55" cy="465.90" r="1.85" fill="#a02f3f"/><circle cx="1263.55" cy="512.00" r="1.85" fill="#a02f3f"/><circle cx="1269.27" cy="465.90" r="1.85" fill="#a02f3f"/><circle cx="1271.27" cy="512.00" r="1.85" fill="#a02f3f"/><circle cx="1276.98" cy="465.90" r="1.85" fill="#a02f3f"/><circle cx="1278.98" cy="512.00" r="1.85" fill="#a02f3f"/><circle cx="1284.70" cy="465.90" r="1.85" fill="#a02f3f"/><circle cx="1286.70" cy="512.00" r="1.85" fill="#a02f3f"/><circle cx="1290.10" cy="468.30" r="1.85" fill="#a02f3f"/><circle cx="1290.10" cy="476.12" r="1.85" fill="#a02f3f"/><circle cx="1290.10" cy="483.94" r="1.85" fill="#a02f3f"/><circle cx="1290.10" cy="491.76" r="1.85" fill="#a02f3f"/><circle cx="1290.10" cy="499.58" r="1.85" fill="#a02f3f"/><circle cx="1290.10" cy="507.40" r="1.85" fill="#a02f3f"/><circle cx="19.60" cy="474.80" r="1.85" fill="#a02f3f"/><circle cx="19.60" cy="482.50" r="1.85" fill="#a02f3f"/><circle cx="19.60" cy="490.20" r="1.85" fill="#a02f3f"/><circle cx="19.60" cy="497.90" r="1.85" fill="#a02f3f"/><circle cx="19.60" cy="505.60" r="1.85" fill="#a02f3f"/></svg>
<div class="a r" style="left:694.3px;width:600px;top:648.5px;font-size:15px;line-height:22px;letter-spacing:0.25px;color:#a0a0a0;-webkit-text-stroke:0.15px #a0a0a0;">数据来源<span style="position:relative;left:4px">：</span> 中信保诚人寿「传家」<span style="margin-left:5px">·</span> 胡润百富 2022 中国高净值人群家族传承报告</div>
</body></html>
